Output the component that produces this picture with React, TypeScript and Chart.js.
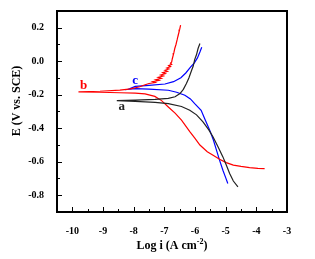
import React, { useEffect, useRef } from 'react';
import { Chart, registerables } from 'chart.js';
Chart.register(...registerables);

const xTicks = [-10, -9, -8, -7, -6, -5, -4, -3];
const yTicks = [-0.8, -0.6, -0.4, -0.2, 0, 0.2];
const xMinor = [-9.5, -8.5, -7.5, -6.5, -5.5, -4.5, -3.5];
const yMinor = [-0.7, -0.5, -0.3, -0.1, 0.1];

// curve a (black)
const aLogI = [-5.84, -5.90, -5.95, -6.01, -6.06, -6.11, -6.20, -6.28, -6.38, -6.49, -6.65, -6.87, -7.30, -7.95, -8.55,
  -7.95, -7.30, -6.87, -6.44, -6.17, -5.95, -5.74, -5.55, -5.41, -5.25, -5.09, -4.98, -4.87, -4.75, -4.60];
const aE = [0.106, 0.076, 0.040, 0.010, -0.030, -0.054, -0.100, -0.133, -0.168, -0.193, -0.212, -0.222, -0.228, -0.232, -0.235,
  -0.240, -0.245, -0.253, -0.270, -0.292, -0.320, -0.362, -0.410, -0.452, -0.510, -0.571, -0.620, -0.670, -0.715, -0.750];

// curve b (red)
const bLogI = [-6.47, -6.50, -6.52, -6.55, -6.58, -6.62, -6.66, -6.69, -6.71, -6.74, -6.76,
  -6.80, -6.76, -6.86, -6.80, -6.92, -6.85, -6.98, -6.90, -7.05, -6.97, -7.12, -7.03, -7.20, -7.10, -7.28, -7.18, -7.38, -7.30, -7.50,
  -7.65, -7.80, -8.10, -8.45, -9.10, -9.80,
  -9.10, -8.45, -7.95, -7.63, -7.31, -7.09, -6.87, -6.65, -6.44, -6.17, -6.00, -5.84, -5.60, -5.41, -5.20, -4.98, -4.75, -4.50, -4.22, -3.95, -3.73];
const bE = [0.215, 0.190, 0.175, 0.155, 0.130, 0.100, 0.076, 0.050, 0.036, 0.015, -0.004,
  -0.012, -0.018, -0.026, -0.032, -0.040, -0.046, -0.054, -0.060, -0.068, -0.074, -0.082, -0.088, -0.096, -0.102, -0.110, -0.115, -0.122, -0.127, -0.133,
  -0.142, -0.152, -0.165, -0.172, -0.179, -0.183,
  -0.185, -0.188, -0.190, -0.195, -0.210, -0.235, -0.273, -0.310, -0.352, -0.420, -0.460, -0.500, -0.540, -0.561, -0.585, -0.605, -0.620, -0.628, -0.635, -0.639, -0.641];

// curve c (blue)
const cLogI = [-5.78, -5.84, -5.92, -6.02, -6.14, -6.30, -6.46, -6.70, -6.98, -7.50, -7.95, -8.17,
  -7.95, -7.50, -6.87, -6.60, -6.33, -6.15, -6.01, -5.80, -5.68, -5.52, -5.40, -5.30, -5.20, -5.09, -5.00, -4.93];
const cE = [0.084, 0.055, 0.020, -0.010, -0.034, -0.070, -0.098, -0.122, -0.136, -0.144, -0.150, -0.167,
  -0.163, -0.166, -0.173, -0.185, -0.203, -0.225, -0.253, -0.293, -0.345, -0.412, -0.470, -0.531, -0.590, -0.651, -0.695, -0.730];

const curveLabels = ['a', 'b', 'c'];
const curveColors = ['#222222', '#ff0000', '#0000ff'];
const labelLogI = [-8.39, -9.63, -7.95];
const labelE = [-0.273, -0.143, -0.113];

const toPts = (xs: number[], ys: number[]) => xs.map((x, i) => ({ x, y: ys[i] }));

const SERIF = '"Liberation Serif", "Times New Roman", serif';

const framePlugin = {
  id: 'frameTicks',
  afterDatasetsDraw(chart: any) {
    const ctx = chart.ctx;
    const { left, right, top, bottom } = chart.chartArea;
    const xs = chart.scales.x;
    const ys = chart.scales.y;
    ctx.save();
    ctx.strokeStyle = '#000';
    ctx.lineWidth = 1;
    ctx.beginPath();
    xTicks.forEach((v) => {
      const p = Math.round(xs.getPixelForValue(v)) + 0.5;
      ctx.moveTo(p, bottom);
      ctx.lineTo(p, bottom - 5);
    });
    xMinor.forEach((v) => {
      const p = Math.round(xs.getPixelForValue(v)) + 0.5;
      ctx.moveTo(p, bottom);
      ctx.lineTo(p, bottom - 3);
    });
    yTicks.forEach((v) => {
      const p = Math.round(ys.getPixelForValue(v)) + 0.5;
      ctx.moveTo(left, p);
      ctx.lineTo(left + 5, p);
    });
    yMinor.forEach((v) => {
      const p = Math.round(ys.getPixelForValue(v)) + 0.5;
      ctx.moveTo(left, p);
      ctx.lineTo(left + 3, p);
    });
    ctx.stroke();
    ctx.lineWidth = 2;
    ctx.strokeRect(left, top, right - left, bottom - top);

    // curve labels
    ctx.font = 'bold 13px ' + SERIF;
    ctx.textAlign = 'center';
    ctx.textBaseline = 'middle';
    curveLabels.forEach((t, i) => {
      ctx.fillStyle = curveColors[i];
      ctx.fillText(t, xs.getPixelForValue(labelLogI[i]), ys.getPixelForValue(labelE[i]));
    });

    // axis titles
    ctx.fillStyle = '#000';
    ctx.font = 'bold 12px ' + SERIF;
    const main = 'Log i (A cm';
    const sup = '-2';
    const close = ')';
    const wMain = ctx.measureText(main).width;
    const wClose = ctx.measureText(close).width;
    ctx.font = 'bold 8px ' + SERIF;
    const wSup = ctx.measureText(sup).width;
    const total = wMain + wSup + wClose;
    const cx = (left + right) / 2;
    const x0 = cx - total / 2;
    const ty = 245;
    ctx.textAlign = 'left';
    ctx.textBaseline = 'alphabetic';
    ctx.font = 'bold 12px ' + SERIF;
    ctx.fillText(main, x0, ty + 4);
    ctx.font = 'bold 8px ' + SERIF;
    ctx.fillText(sup, x0 + wMain, ty - 1);
    ctx.font = 'bold 12px ' + SERIF;
    ctx.fillText(close, x0 + wMain + wSup, ty + 4);

    ctx.translate(17, 101);
    ctx.rotate(-Math.PI / 2);
    ctx.textAlign = 'center';
    ctx.textBaseline = 'middle';
    ctx.fillText('E (V vs. SCE)', 0, 0);
    ctx.restore();
  },
};

export default function App() {
  const ref = useRef<HTMLCanvasElement>(null);
  useEffect(() => {
    document.body.style.margin = '0';
    const ctx = ref.current!.getContext('2d')!;
    const mk = (xs: number[], ys: number[], color: string) => ({
      data: toPts(xs, ys),
      borderColor: color,
      borderWidth: 1.2,
      pointRadius: 0,
      showLine: true,
      fill: false,
      tension: 0,
    });
    const chart = new Chart(ctx, {
      type: 'scatter',
      data: {
        datasets: [
          mk(aLogI, aE, curveColors[0]),
          mk(bLogI, bE, curveColors[1]),
          mk(cLogI, cE, curveColors[2]),
        ],
      },
      options: {
        animation: false,
        responsive: false,
        devicePixelRatio: 1,
        layout: { padding: { top: 11, right: 28, left: 0, bottom: 0 } },
        plugins: { legend: { display: false }, tooltip: { enabled: false } },
        scales: {
          x: {
            type: 'linear',
            min: -10.5,
            max: -3,
            grid: { display: false },
            border: { display: false },
            afterFit: (s: any) => { s.height = 47; },
            afterBuildTicks: (s: any) => { s.ticks = xTicks.map((v) => ({ value: v })); },
            ticks: {
              padding: 5,
              color: '#000',
              font: { family: SERIF, size: 10, weight: 'bold' },
              maxRotation: 0,
              callback: (v: any) => String(v),
            },
          },
          y: {
            type: 'linear',
            min: -0.9,
            max: 0.3,
            grid: { display: false },
            border: { display: false },
            afterFit: (s: any) => { s.width = 57; },
            afterBuildTicks: (s: any) => { s.ticks = yTicks.map((v) => ({ value: v })); },
            ticks: {
              padding: 5,
              color: '#000',
              font: { family: SERIF, size: 10, weight: 'bold' },
              callback: (v: any) => Number(v).toFixed(1),
            },
          },
        },
      },
      plugins: [framePlugin],
    });
    return () => chart.destroy();
  }, []);
  return <canvas ref={ref} width={315} height={259} style={{ display: 'block' }} />;
}
